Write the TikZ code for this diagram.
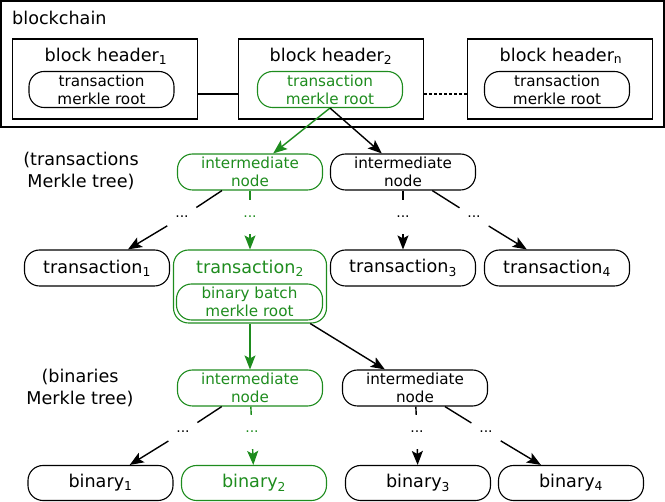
\documentclass[tikz,border=0pt]{standalone}
\usepackage{fontspec}
\setmainfont{DejaVu Sans}
\usepackage{tikz}
\usetikzlibrary{arrows.meta,positioning,shapes.geometric}
\definecolor{PathGreen}{HTML}{1E8C1E}
\begin{document}
\begin{tikzpicture}[x=1pt,y=-1pt,
  chainbox/.style={rectangle,draw,line width=1.2pt,inner sep=0pt},
  headbox/.style={rectangle,draw,line width=1.1pt,minimum width=185pt,minimum height=80pt,inner sep=0pt},
  title/.style={font=\fontsize{17.6}{20}\selectfont,inner sep=0pt},
  rootbox/.style={rectangle,rounded corners=15pt,draw,line width=1.1pt,minimum width=145pt,
                  minimum height=36pt,align=center,font=\fontsize{15.2}{18}\selectfont,inner sep=0pt},
  leafbox/.style={rectangle,rounded corners=15pt,draw,line width=1.1pt,minimum width=145pt,
                  minimum height=36pt,font=\fontsize{17.6}{20}\selectfont,inner sep=0pt},
  gapnode/.style={circle,minimum size=34pt,inner sep=0pt,font=\fontsize{14}{16}\selectfont},
  treename/.style={align=center,font=\fontsize{17.6}{21.5}\selectfont},
  link/.style={line width=1.4pt},
  arrow/.style={-{Stealth[length=14pt,width=11pt,inset=3pt]},line width=1.4pt}
]
\useasboundingbox (0,0) rectangle (665,502);

% blockchain with its block headers
\node[chainbox,minimum width=663pt,minimum height=126pt] (chain) at (332.5,64) {};
\node[title,anchor=west] (chaintitle) at (12,18) {blockchain};

\node[headbox] (bh1) at (105,79) {};
\node[headbox] (bh2) at (331,79) {};
\node[headbox] (bhn) at (560,79) {};
\node[title] (bh1title) at (106,56) {block header\textsubscript{1}};
\node[title] (bh2title) at (331,56) {block header\textsubscript{2}};
\node[title] (bhntitle) at (561,56) {block header\textsubscript{n}};
\node[rootbox] (root1) at (101.5,89.5) {transaction\\merkle root};
\node[rootbox,draw=PathGreen,text=PathGreen] (root2) at (330,89.5) {transaction\\merkle root};
\node[rootbox] (rootn) at (557,89.5) {transaction\\merkle root};

\draw[line width=1.2pt] ([yshift=-15pt]bh1.east) -- ([yshift=-15pt]bh2.west);
\draw[line width=1.2pt,dash pattern=on 3pt off 2pt] ([yshift=-15pt]bh2.east) -- ([yshift=-15pt]bhn.west);

% transactions Merkle tree
\node[treename] (txname) at (81,171) {(transactions\\Merkle tree)};
\node[rootbox,draw=PathGreen,text=PathGreen] (int1) at (250,172) {intermediate\\node};
\node[rootbox] (int2) at (403,172) {intermediate\\node};

\node[gapnode] (d1) at (182,217) {...};
\node[gapnode,text=PathGreen] (d2) at (250,217) {...};
\node[gapnode] (d3) at (403,217) {...};
\node[gapnode] (d4) at (474,217) {...};

\node[leafbox] (tx1) at (97,268) {transaction\textsubscript{1}};
\node[leafbox,draw=PathGreen,minimum width=153pt,minimum height=73pt] (tx2) at (250,286.5) {};
\node[title,text=PathGreen] (tx2title) at (250,268) {transaction\textsubscript{2}};
\node[rootbox,draw=PathGreen,text=PathGreen,minimum width=146pt] (tx2root) at (249.5,302) {binary batch\\merkle root};
\node[leafbox] (tx3) at (403,268) {transaction\textsubscript{3}};
\node[leafbox] (tx4) at (557,268) {transaction\textsubscript{4}};

\draw[arrow,PathGreen] (root2.south) -- (int1);
\draw[arrow] (root2.south) -- (int2);
\draw[link] (int1) -- (d1);
\draw[link,PathGreen] (int1) -- (d2);
\draw[link] (int2) -- (d3);
\draw[link] (int2) -- (d4);
\draw[arrow] (d1) -- (tx1);
\draw[arrow,PathGreen] (d2) -- (tx2);
\draw[arrow] (d3) -- (tx3);
\draw[arrow] (d4) -- (tx4);

% binaries Merkle tree
\node[treename] (binname) at (80,388) {(binaries\\Merkle tree)};
\node[rootbox,draw=PathGreen,text=PathGreen] (int3) at (250,388) {intermediate\\node};
\node[rootbox] (int4) at (415,388) {intermediate\\node};

\node[gapnode] (e1) at (183,432) {...};
\node[gapnode,text=PathGreen] (e2) at (252,432) {...};
\node[gapnode] (e3) at (417,432) {...};
\node[gapnode] (e4) at (486,432) {...};

\node[leafbox,minimum height=35pt] (bin1) at (100.5,483) {binary\textsubscript{1}};
\node[leafbox,minimum height=35pt,draw=PathGreen,text=PathGreen] (bin2) at (254,483) {binary\textsubscript{2}};
\node[leafbox,minimum height=35pt] (bin3) at (418,483) {binary\textsubscript{3}};
\node[leafbox,minimum height=35pt] (bin4) at (571,483) {binary\textsubscript{4}};

\draw[arrow,PathGreen] (tx2) -- (int3);
\draw[arrow] (tx2) -- (int4);
\draw[link] (int3) -- (e1);
\draw[link,PathGreen] (int3) -- (e2);
\draw[link] (int4) -- (e3);
\draw[link] (int4) -- (e4);
\draw[arrow] (e1) -- (bin1);
\draw[arrow,PathGreen] (e2) -- (bin2);
\draw[arrow] (e3) -- (bin3);
\draw[arrow] (e4) -- (bin4);
\end{tikzpicture}
\end{document}
